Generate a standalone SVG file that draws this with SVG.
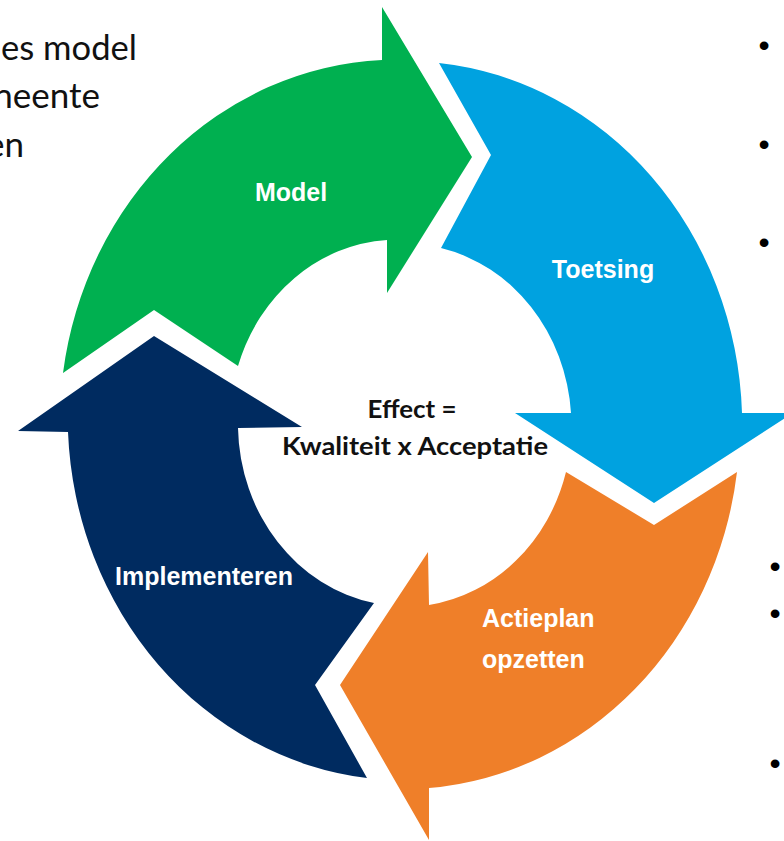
<svg xmlns="http://www.w3.org/2000/svg" width="784" height="841" viewBox="0 0 784 841">
<style>
.lbl{font-family:"Liberation Sans",Arial,sans-serif;font-weight:bold;font-size:25px;fill:#ffffff}
.ctr{font-family:Lato,"Liberation Sans",sans-serif;font-weight:bold;font-size:25px;fill:#111111}
.side{font-family:Lato,"Liberation Sans",sans-serif;font-size:35px;fill:#111111}
.bul{font-family:"Liberation Sans",Arial,sans-serif;font-size:32px;fill:#000000}
</style>
<rect width="784" height="841" fill="#ffffff"/>
<g id="side-text">
<text class="side" x="1" y="60" textLength="136" lengthAdjust="spacingAndGlyphs">es model</text>
<text class="side" x="100" y="108" text-anchor="end">neente</text>
<text class="side" x="24" y="157" text-anchor="end">en</text>
</g>
<g id="bullets">
<text class="bul" x="764" y="56" text-anchor="middle">•</text>
<text class="bul" x="764" y="155" text-anchor="middle">•</text>
<text class="bul" x="764" y="253" text-anchor="middle">•</text>
<text class="bul" x="775" y="577" text-anchor="middle">•</text>
<text class="bul" x="775" y="624" text-anchor="middle">•</text>
<text class="bul" x="775" y="774" text-anchor="middle">•</text>
</g>
<g id="connectors"></g>
<g id="model">
<path fill="#00B050" d="M63,373 A337,364 0 0 1 382,60 L382,7 L472,157 L387,293 L387,240 A167,182 0 0 0 238,366 L154,310 Z"/>
<text class="lbl" x="291" y="201" text-anchor="middle">Model</text>
</g>
<g id="toetsing">
<path fill="#00A2E0" d="M439,63 A337,364 0 0 1 742,413 L793,413 L654,503 L515,413 L571,413 A167,182 0 0 0 441,248 L491,155 Z"/>
<text class="lbl" x="603" y="278" text-anchor="middle">Toetsing</text>
</g>
<g id="actieplan">
<path fill="#EF7F29" d="M737,472 A337,364 0 0 1 429,788 L429,840 L340,685 L428,552 L429,605 A167,182 0 0 0 566,472 L654,525 Z"/>
<text class="lbl" x="482" y="627">Actieplan</text>
<text class="lbl" x="482" y="668">opzetten</text>
</g>
<g id="implementeren">
<path fill="#002B60" d="M367,778 A337,364 0 0 1 68,432 L18,431 L154,336 L302,427 L238,428 A167,182 0 0 0 374,603 L315,685 Z"/>
<text class="lbl" x="204" y="585" text-anchor="middle">Implementeren</text>
</g>
<g id="effect">
<text class="ctr" x="412" y="418" text-anchor="middle" textLength="89" lengthAdjust="spacingAndGlyphs">Effect =</text>
<text class="ctr" x="415" y="455" text-anchor="middle" textLength="266" lengthAdjust="spacingAndGlyphs">Kwaliteit x Acceptatie</text>
</g>
</svg>
